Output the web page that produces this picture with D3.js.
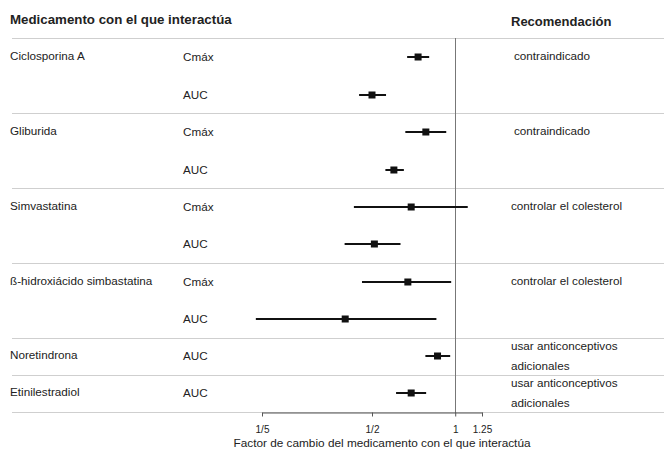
<!DOCTYPE html>
<html>
<head>
<meta charset="utf-8">
<script src="https://cdn.jsdelivr.net/npm/d3@7"></script>
<style>
  body { margin: 0; background: #fff; }
  text { font-family: "Liberation Sans", Arial, sans-serif; fill: #222; }
</style>
</head>
<body>
<script>
var width = 664, height = 451;

/** data **/
var drugs = ["Ciclosporina A", "Gliburida", "Simvastatina", "ß-hidroxiácido simbastatina", "Noretindrona", "Etinilestradiol"];
var recs = [["contraindicado"], ["contraindicado"], ["controlar el colesterol"], ["controlar el colesterol"],
            ["usar anticonceptivos", "adicionales"], ["usar anticonceptivos", "adicionales"]];
var rowDrug = [0, 0, 1, 1, 2, 2, 3, 3, 4, 5];
var rowMeasure = ["Cmáx", "AUC", "Cmáx", "AUC", "Cmáx", "AUC", "Cmáx", "AUC", "AUC", "AUC"];
var est  = [0.734, 0.50, 0.783, 0.60, 0.693, 0.51, 0.674, 0.40, 0.863, 0.693];
var low  = [0.67, 0.449, 0.66, 0.559, 0.43, 0.398, 0.46, 0.19, 0.78, 0.611];
var high = [0.805, 0.562, 0.928, 0.652, 1.11, 0.634, 0.967, 0.855, 0.959, 0.785];
var tickVals = [0.2, 0.5, 1, 1.25];
var tickLabels = ["1/5", "1/2", "1", "1.25"];

var svg = d3.select("body").append("svg").attr("width", width).attr("height", height);

var x = d3.scaleLog().domain([0.2, 1.25]).range([262, 482]);
// row centres
var rowY = [57, 95, 132, 170, 207, 244, 282, 319, 356, 393];
var sepY = [38, 113, 188, 263, 338, 375, 412];

// headers
svg.append("text").attr("x", 10).attr("y", 24).style("font-weight", "bold").style("font-size", "13.3px")
    .text("Medicamento con el que interactúa");
svg.append("text").attr("x", 511).attr("y", 26).style("font-weight", "bold").style("font-size", "13px")
    .text("Recomendación");

// separators
svg.selectAll("line.sep").data(sepY).enter().append("line")
    .attr("x1", 12).attr("x2", width).attr("y1", d => d + 0.5).attr("y2", d => d + 0.5)
    .attr("stroke", "#cfcfcf").attr("stroke-width", 1);

// reference line at 1
svg.append("line").attr("x1", Math.round(x(1)) + 0.5).attr("x2", Math.round(x(1)) + 0.5)
    .attr("y1", 38).attr("y2", 413).attr("stroke", "#777").attr("stroke-width", 1);

// drug names
var firstRow = drugs.map((d, i) => rowDrug.indexOf(i));
svg.selectAll("text.drug").data(drugs).enter().append("text")
    .attr("x", 10).attr("y", (d, i) => rowY[firstRow[i]] + 3)
    .style("font-size", "11.7px").text(d => d);

// measures
svg.selectAll("text.meas").data(rowMeasure).enter().append("text")
    .attr("x", 183).attr("y", (d, i) => rowY[i] + 4)
    .style("font-size", "11.7px").text(d => d);

// recommendations
recs.forEach((r, i) => {
    var y0 = rowY[firstRow[i]];
    var t = svg.append("text").style("font-size", "11.7px");
    if (r.length == 1) {
        t.attr("x", r[0] == "contraindicado" ? 514 : 511).attr("y", y0 + 3).text(r[0]);
    } else {
        r.forEach((s, j) => {
            t.append("tspan").attr("x", 511).attr("y", y0 - 6 + j * 20).text(s);
        });
    }
});

// confidence intervals and points
var g = svg.append("g");
g.selectAll("line.ci").data(est).enter().append("line")
    .attr("x1", (d, i) => x(low[i])).attr("x2", (d, i) => x(high[i]))
    .attr("y1", (d, i) => rowY[i]).attr("y2", (d, i) => rowY[i])
    .attr("stroke", "#111").attr("stroke-width", 2);
g.selectAll("rect.pt").data(est).enter().append("rect")
    .attr("x", d => x(d) - 3.5).attr("y", (d, i) => rowY[i] - 3.5)
    .attr("width", 7).attr("height", 7).attr("fill", "#111");

// axis
var axis = d3.axisBottom(x).tickValues(tickVals).tickFormat((d, i) => tickLabels[i]).tickSize(4).tickSizeOuter(0);
var ax = svg.append("g").attr("transform", "translate(0,412.5)").call(axis);
ax.select(".domain").attr("stroke", "#555");
ax.selectAll(".tick line").attr("stroke", "#555");
ax.selectAll(".tick text").attr("y", 13).style("font-size", "10px")
    .style("font-family", "Liberation Sans, Arial, sans-serif").attr("fill", "#222");

svg.append("text").attr("x", 382).attr("y", 447).attr("text-anchor", "middle").style("font-size", "11.8px")
    .text("Factor de cambio del medicamento con el que interactúa");
</script>
</body>
</html>
